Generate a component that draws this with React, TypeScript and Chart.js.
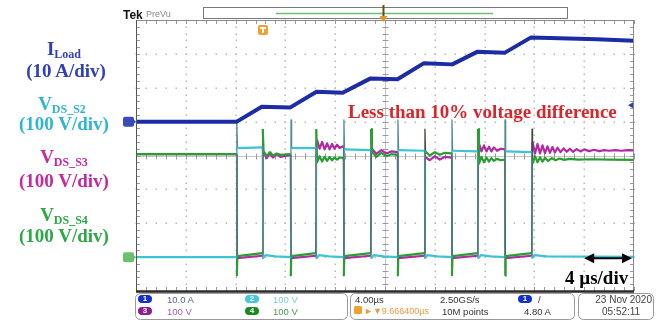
import React, { useEffect, useRef } from "react";
import { Chart, registerables } from "chart.js";

Chart.register(...registerables);

const W = 659;
const H = 320;

// Horizontal: 4 µs/div, 10 divisions
const timeRangeUs = [0, 40];
const timeDivUs = 4;
// Channel 1 (I_Load): 10 A/div, ground marker 5 div above bottom
const currentRangeA = [-50, 30];
// Channels 2-4 (V_DS): 100 V/div, ground marker 1 div above bottom
const voltageRangeV = [-100, 700];
const voltageDivV = 100;
const triggerLevelA = 4.8;

// [time µs, current A]
const iLoad: [number, number][] = [
  [0, 0], [8.1, 0], [10.1, 4.4], [12.4, 4.2], [14.5, 8.8], [16.6, 8.5],
  [18.8, 12.7], [21.0, 12.5], [23.1, 17.2], [25.4, 16.9], [27.4, 20.6],
  [29.6, 20.3], [31.7, 24.8], [34, 24.6], [37, 24.3], [40, 23.9],
];

// [time µs, voltage V]
const vDsS2: [number, number][] = [
  [0, 0], [8.08, 0], [8.1, 405], [8.15, 322], [10.15, 324], [10.18, -4], [10.4, 6], [11.2, 2],
  [12.43, 0], [12.45, 405], [12.5, 322], [14.46, 322], [14.49, -4], [14.7, 6], [15.5, 2],
  [16.68, 0], [16.7, 405], [16.75, 318], [18.85, 316], [18.88, -4], [19.1, 6], [19.9, 2],
  [21.02, 0], [21.04, 405], [21.09, 316], [23.18, 314], [23.21, -4], [23.4, 6], [24.2, 2],
  [25.36, 0], [25.38, 405], [25.43, 314], [27.44, 312], [27.47, -4], [27.7, 6], [28.5, 2],
  [29.62, 0], [29.64, 405], [29.69, 312], [31.78, 310], [31.81, -4], [32.0, 6], [33.0, 2],
  [40, 1],
];

const vDsS3: [number, number][] = [
  [0, 304], [8.1, 304], [8.13, -3], [10.16, 4],
  [10.19, 300], [10.25, 310], [10.5, 292], [10.75, 306], [11.0, 294], [11.3, 304], [11.6, 296], [12.42, 302],
  [12.45, -3], [14.46, 4],
  [14.49, 330], [14.55, 345], [14.75, 320], [14.95, 340], [15.15, 318], [15.35, 336], [15.55, 318],
  [15.75, 334], [15.95, 320], [16.15, 332], [16.35, 322], [16.67, 328],
  [16.7, -3], [18.86, 4],
  [18.89, 315], [18.95, 320], [19.3, 305], [19.7, 316], [20.1, 306], [20.5, 312], [21.01, 310],
  [21.04, -3], [23.19, 4],
  [23.22, 296], [23.6, 286], [24.0, 298], [24.4, 288], [24.8, 296], [25.36, 294],
  [25.39, -3], [27.45, 4],
  [27.48, 330], [27.55, 335], [27.75, 312], [27.95, 330], [28.15, 312], [28.35, 326], [28.55, 312],
  [28.75, 324], [29.0, 314], [29.3, 320], [29.63, 318],
  [29.66, -3], [31.79, 4],
  [31.82, 330], [31.85, 340], [32.05, 306], [32.25, 334], [32.45, 306], [32.65, 330], [32.85, 307],
  [33.05, 327], [33.25, 308], [33.45, 325], [33.65, 309], [33.85, 323], [34.1, 310], [34.35, 321],
  [34.6, 311], [34.85, 320], [35.1, 311], [35.4, 319], [35.7, 312], [36.0, 318], [36.4, 313],
  [36.8, 317], [37.2, 313], [37.6, 316], [38.0, 314], [38.5, 316], [39.0, 314], [39.5, 316], [40, 315],
];

const vDsS4: [number, number][] = [
  [0, 304], [8.08, 304], [8.1, -55], [8.14, 3], [10.15, 12],
  [10.18, 378], [10.25, 312], [10.5, 298], [10.75, 310], [11.0, 300], [11.3, 306], [11.6, 302], [12.4, 304],
  [12.43, -55], [12.47, 3], [14.45, 12],
  [14.48, 378], [14.55, 280], [14.75, 298], [14.95, 282], [15.15, 296], [15.35, 284], [15.55, 296],
  [15.75, 286], [15.95, 294], [16.15, 288], [16.35, 294], [16.66, 292],
  [16.69, -55], [16.73, 3], [18.85, 12],
  [18.88, 378], [18.95, 310], [19.3, 296], [19.7, 308], [20.1, 298], [20.5, 304], [21.0, 302],
  [21.03, -55], [21.07, 3], [23.18, 12],
  [23.21, 378], [23.25, 312], [23.6, 300], [24.0, 310], [24.4, 302], [24.8, 308], [25.35, 306],
  [25.38, -55], [25.42, 3], [27.44, 12],
  [27.47, 378], [27.55, 276], [27.75, 296], [27.95, 280], [28.15, 294], [28.35, 282], [28.55, 292],
  [28.75, 284], [29.0, 290], [29.3, 286], [29.62, 288],
  [29.65, -55], [29.69, 3], [31.78, 12],
  [31.81, 378], [31.85, 276], [32.05, 298], [32.25, 280], [32.45, 295], [32.65, 282], [32.85, 293],
  [33.1, 284], [33.4, 292], [33.7, 286], [34.0, 291], [34.4, 287], [34.8, 290], [35.5, 288],
  [36.5, 289], [38, 288], [40, 287],
];

const C_I = "#1c2ca4";
const C_S2 = "#3cc3d6";
const C_S3 = "#b02aa6";
const C_S4 = "#2a9e32";
const C_EDGE_S2 = "#4f8f96";
const C_EDGE_S4 = "#3a4d3a";

const toXY = (a: [number, number][]) => a.map(([x, y]) => ({ x, y }));

// thin dark switching edges (steep segments), as on the scope screen
const isEdge = (c: any) =>
  Math.abs(c.p1.parsed.x - c.p0.parsed.x) < 0.06 && Math.abs(c.p1.parsed.y - c.p0.parsed.y) > 60;
const edgeSeg = (edgeColor: string) => ({
  borderColor: (c: any) => (isEdge(c) ? edgeColor : undefined),
  borderWidth: (c: any) => (isEdge(c) ? 1.3 : undefined),
});

function rr(ctx: CanvasRenderingContext2D, x: number, y: number, w: number, h: number, r: number) {
  ctx.beginPath();
  ctx.moveTo(x + r, y);
  ctx.lineTo(x + w - r, y);
  ctx.arcTo(x + w, y, x + w, y + r, r);
  ctx.lineTo(x + w, y + h - r);
  ctx.arcTo(x + w, y + h, x + w - r, y + h, r);
  ctx.lineTo(x + r, y + h);
  ctx.arcTo(x, y + h, x, y + h - r, r);
  ctx.lineTo(x, y + r);
  ctx.arcTo(x, y, x + r, y, r);
  ctx.closePath();
}

const scopePlugin = {
  id: "scope",
  beforeDatasetsDraw(chart: any) {
    const { ctx, chartArea: a, scales } = chart;
    const x = scales.x;
    const yV = scales.yV;
    ctx.save();
    ctx.fillStyle = "#b8b8b8";
    const nx = (timeRangeUs[1] - timeRangeUs[0]) / timeDivUs;
    const ny = (voltageRangeV[1] - voltageRangeV[0]) / voltageDivV;
    for (let i = 1; i < nx; i++) {
      if (i === nx / 2) continue;
      const px = Math.round(x.getPixelForValue(timeRangeUs[0] + i * timeDivUs));
      for (let k = 0; k <= ny * 5; k++) {
        const py = Math.round(yV.getPixelForValue(voltageRangeV[0] + (k * voltageDivV) / 5));
        ctx.fillRect(px - 0.5, py - 0.5, 1.5, 1.5);
      }
    }
    for (let j = 1; j < ny; j++) {
      if (j === ny / 2) continue;
      const py = Math.round(yV.getPixelForValue(voltageRangeV[0] + j * voltageDivV));
      for (let k = 0; k <= nx * 5; k++) {
        const px = Math.round(x.getPixelForValue(timeRangeUs[0] + (k * timeDivUs) / 5));
        ctx.fillRect(px - 0.5, py - 0.5, 1.5, 1.5);
      }
    }
    const cx = Math.round(x.getPixelForValue((timeRangeUs[0] + timeRangeUs[1]) / 2)) + 0.5;
    const cy = Math.round(yV.getPixelForValue((voltageRangeV[0] + voltageRangeV[1]) / 2)) + 0.5;
    ctx.strokeStyle = "#c4c4c4";
    ctx.lineWidth = 1;
    ctx.beginPath();
    ctx.moveTo(cx, a.top);
    ctx.lineTo(cx, a.bottom);
    ctx.moveTo(a.left, cy);
    ctx.lineTo(a.right, cy);
    ctx.stroke();
    ctx.strokeStyle = "#9a9a9a";
    ctx.beginPath();
    for (let k = 0; k <= nx * 5; k++) {
      const px = Math.round(x.getPixelForValue(timeRangeUs[0] + (k * timeDivUs) / 5)) + 0.5;
      ctx.moveTo(px, cy - 3);
      ctx.lineTo(px, cy + 3);
      ctx.moveTo(px, a.top);
      ctx.lineTo(px, a.top + 4);
      ctx.moveTo(px, a.bottom);
      ctx.lineTo(px, a.bottom - 4);
    }
    for (let k = 0; k <= ny * 5; k++) {
      const py = Math.round(yV.getPixelForValue(voltageRangeV[0] + (k * voltageDivV) / 5)) + 0.5;
      ctx.moveTo(cx - 3, py);
      ctx.lineTo(cx + 3, py);
      ctx.moveTo(a.left, py);
      ctx.lineTo(a.left + 4, py);
      ctx.moveTo(a.right, py);
      ctx.lineTo(a.right - 4, py);
    }
    ctx.stroke();
    ctx.restore();
  },
  afterDatasetsDraw(chart: any) {
    const { ctx, chartArea: a, scales } = chart;
    const x = scales.x;
    const yI = scales.yI;
    const yV = scales.yV;
    ctx.save();
    ctx.strokeStyle = "#8a8a8a";
    ctx.lineWidth = 1;
    ctx.strokeRect(a.left + 0.5, a.top + 0.5, a.right - a.left - 1, a.bottom - a.top);
    ctx.strokeStyle = "#555";
    ctx.beginPath();
    ctx.moveTo(a.left + 0.5, a.top);
    ctx.lineTo(a.left + 0.5, a.bottom);
    ctx.stroke();
    ctx.strokeStyle = "#2a2a2a";
    ctx.lineWidth = 2.5;
    ctx.beginPath();
    ctx.moveTo(a.left, a.bottom + 0.5);
    ctx.lineTo(a.right, a.bottom + 0.5);
    ctx.stroke();

    // time/div double arrow
    const ay = yV.getPixelForValue(0) + 1;
    const ax0 = x.getPixelForValue(36.0);
    const ax1 = a.right - 2;
    ctx.strokeStyle = "#000";
    ctx.fillStyle = "#000";
    ctx.lineWidth = 2;
    ctx.beginPath();
    ctx.moveTo(ax0 + 4, ay);
    ctx.lineTo(ax1 - 4, ay);
    ctx.stroke();
    ctx.beginPath();
    ctx.moveTo(ax0, ay);
    ctx.lineTo(ax0 + 10, ay - 5);
    ctx.lineTo(ax0 + 10, ay + 5);
    ctx.closePath();
    ctx.fill();
    ctx.beginPath();
    ctx.moveTo(ax1, ay);
    ctx.lineTo(ax1 - 10, ay - 5);
    ctx.lineTo(ax1 - 10, ay + 5);
    ctx.closePath();
    ctx.fill();

    const g1 = yI.getPixelForValue(0);
    ctx.fillStyle = "#3a4cb8";
    rr(ctx, 123, g1 - 5, 11, 10, 2);
    ctx.fill();
    ctx.beginPath();
    ctx.moveTo(133, g1 - 3);
    ctx.lineTo(136, g1);
    ctx.lineTo(133, g1 + 3);
    ctx.fill();
    const g2 = yV.getPixelForValue(0);
    ctx.fillStyle = "#6cbf6c";
    rr(ctx, 123, g2 - 5, 11, 10, 2);
    ctx.fill();
    ctx.beginPath();
    ctx.moveTo(133, g2 - 3);
    ctx.lineTo(136, g2);
    ctx.lineTo(133, g2 + 3);
    ctx.fill();
    const tl = yI.getPixelForValue(triggerLevelA);
    ctx.fillStyle = "#2a40c0";
    ctx.beginPath();
    ctx.moveTo(a.right - 6, tl);
    ctx.lineTo(a.right - 1, tl - 3);
    ctx.lineTo(a.right - 1, tl + 3);
    ctx.closePath();
    ctx.fill();
    ctx.fillStyle = "#f0a030";
    rr(ctx, 258, 25, 10, 10, 2);
    ctx.fill();
    ctx.fillStyle = "#fff";
    ctx.fillRect(260, 27, 6, 2);
    ctx.fillRect(262, 27, 2, 6);

    ctx.fillStyle = "#fff";
    ctx.strokeStyle = "#7a7a7a";
    ctx.lineWidth = 1;
    ctx.fillRect(203.5, 7.5, 364, 11);
    ctx.strokeRect(203.5, 7.5, 364, 11);
    ctx.strokeStyle = "#6cc070";
    ctx.lineWidth = 1.5;
    ctx.beginPath();
    ctx.moveTo(276, 13.5);
    ctx.lineTo(493, 13.5);
    ctx.stroke();
    const tx = Math.round(x.getPixelForValue(20)) - 1.5;
    ctx.strokeStyle = "#6b4a1a";
    ctx.lineWidth = 2;
    ctx.beginPath();
    ctx.moveTo(tx, 5);
    ctx.lineTo(tx, 19);
    ctx.stroke();
    ctx.fillStyle = "#e89528";
    ctx.beginPath();
    ctx.moveTo(tx - 4, 16);
    ctx.lineTo(tx + 4, 16);
    ctx.lineTo(tx, 22);
    ctx.closePath();
    ctx.fill();

    ctx.strokeStyle = "#9a9a9a";
    ctx.lineWidth = 1;
    rr(ctx, 135.5, 293.5, 212, 26, 5);
    ctx.stroke();
    rr(ctx, 350.5, 293.5, 224, 26, 5);
    ctx.stroke();
    rr(ctx, 578.5, 293.5, 75, 26, 5);
    ctx.stroke();
    const pills: [number, number, string][] = [
      [138, 295, "#1530c8"], [245, 295, "#44c8e0"], [138, 307, "#8a2090"], [245, 307, "#1a8a22"],
      [518, 295, "#1530c8"],
    ];
    for (const [px, py, c] of pills) {
      ctx.fillStyle = c;
      rr(ctx, px, py, 14, 8, 4);
      ctx.fill();
    }
    ctx.fillStyle = "#f0a030";
    rr(ctx, 354, 306, 8, 8, 1.5);
    ctx.fill();
    ctx.restore();
  },
};

type TP = {
  x: number;
  base: number;
  size: number;
  serif?: boolean;
  bold?: boolean;
  color: string;
  align?: "left" | "center" | "right";
  children: React.ReactNode;
};

function Txt({ x, base, size, serif, bold, color, align = "left", children }: TP) {
  const k = serif ? 0.8375 : 0.8465;
  const tr = align === "center" ? "translateX(-50%)" : align === "right" ? "translateX(-100%)" : "none";
  return (
    <div
      style={{
        position: "absolute",
        left: x,
        top: base - k * size,
        fontSize: size,
        lineHeight: `${size}px`,
        fontFamily: serif ? '"Liberation Serif", "DejaVu Serif", serif' : '"Liberation Sans", Arial, sans-serif',
        fontWeight: bold ? 700 : 400,
        color,
        whiteSpace: "nowrap",
        transform: tr,
      }}
    >
      {children}
    </div>
  );
}

const subStyle: React.CSSProperties = { fontSize: 12, position: "relative", top: 3, lineHeight: 1 };

const L_BLUE = "#3140b8";
const L_CYAN = "#2fb6cf";
const L_MAG = "#c42a9c";
const L_GRN = "#2ca845";

export default function App() {
  const ref = useRef<HTMLCanvasElement | null>(null);
  useEffect(() => {
    document.body.style.margin = "0";
    const cv = ref.current;
    if (!cv) return;
    const chart = new Chart(cv, {
      type: "line",
      data: {
        datasets: [
          { label: "I_Load", data: toXY(iLoad), yAxisID: "yI", borderColor: C_I, borderWidth: 4, order: 0 },
          { label: "V_DS_S2", data: toXY(vDsS2), yAxisID: "yV", borderColor: C_S2, borderWidth: 2.2, order: 1, segment: edgeSeg(C_EDGE_S2) },
          { label: "V_DS_S4", data: toXY(vDsS4), yAxisID: "yV", borderColor: C_S4, borderWidth: 2.2, order: 2, segment: edgeSeg(C_EDGE_S4) },
          { label: "V_DS_S3", data: toXY(vDsS3), yAxisID: "yV", borderColor: C_S3, borderWidth: 2.2, order: 3, segment: edgeSeg(C_EDGE_S4) },
        ] as any,
      },
      options: {
        animation: false,
        responsive: false,
        devicePixelRatio: 1,
        events: [],
        layout: { padding: { left: 136, top: 20, right: 25, bottom: 29 } },
        plugins: { legend: { display: false }, tooltip: { enabled: false } },
        elements: { point: { radius: 0 }, line: { tension: 0, borderJoinStyle: "round" } },
        scales: {
          x: { type: "linear", min: timeRangeUs[0], max: timeRangeUs[1], display: false },
          yI: { type: "linear", min: currentRangeA[0], max: currentRangeA[1], display: false },
          yV: { type: "linear", min: voltageRangeV[0], max: voltageRangeV[1], display: false },
        },
      } as any,
      plugins: [scopePlugin as any],
    });
    return () => chart.destroy();
  }, []);

  return (
    <div style={{ position: "relative", width: W, height: H, background: "#fff", overflow: "hidden" }}>
      <canvas ref={ref} width={W} height={H} style={{ position: "absolute", left: 0, top: 0, width: W, height: H }} />
      <div style={{ position: "absolute", left: 0, top: 0, width: W, height: H, pointerEvents: "none" }}>
        <Txt x={64} base={55} size={19} serif bold color={L_BLUE} align="center">
          I<span style={subStyle}>Load</span>
        </Txt>
        <Txt x={66} base={77} size={19} serif bold color={L_BLUE} align="center">(10 A/div)</Txt>
        <Txt x={62} base={110} size={19} serif bold color={L_CYAN} align="center">
          V<span style={subStyle}>DS_S2</span>
        </Txt>
        <Txt x={64} base={130} size={19} serif bold color={L_CYAN} align="center">(100 V/div)</Txt>
        <Txt x={64} base={163} size={19} serif bold color={L_MAG} align="center">
          V<span style={subStyle}>DS_S3</span>
        </Txt>
        <Txt x={64} base={187} size={19} serif bold color={L_MAG} align="center">(100 V/div)</Txt>
        <Txt x={64} base={221} size={19} serif bold color={L_GRN} align="center">
          V<span style={subStyle}>DS_S4</span>
        </Txt>
        <Txt x={64} base={242} size={19} serif bold color={L_GRN} align="center">(100 V/div)</Txt>

        <Txt x={348} base={118} size={19} serif bold color="#d8262c">Less than 10% voltage difference</Txt>
        <Txt x={565} base={284} size={19} serif bold color="#000">4 µs/div</Txt>

        <Txt x={123} base={19} size={12} bold color="#111">Tek</Txt>
        <Txt x={146} base={18} size={9} color="#888">PreVu</Txt>

        <Txt x={145} base={302} size={8} bold color="#fff" align="center">1</Txt>
        <Txt x={252} base={302} size={8} bold color="#fff" align="center">2</Txt>
        <Txt x={145} base={314} size={8} bold color="#fff" align="center">3</Txt>
        <Txt x={252} base={314} size={8} bold color="#fff" align="center">4</Txt>
        <Txt x={167} base={303} size={9.5} color="#5a6494">10.0 A</Txt>
        <Txt x={273} base={303} size={9.5} color="#7cc8d4">100 V</Txt>
        <Txt x={167} base={315} size={9.5} color="#a060b0">100 V</Txt>
        <Txt x={273} base={315} size={9.5} color="#4c9c4c">100 V</Txt>

        <Txt x={355} base={303} size={9.5} color="#333">4.00µs</Txt>
        <Txt x={440} base={303} size={9.5} color="#333">2.50GS/s</Txt>
        <Txt x={525} base={302} size={8} bold color="#fff" align="center">1</Txt>
        <Txt x={538} base={303} size={9.5} color="#333">/</Txt>
        <Txt x={364} base={315} size={9} color="#e89a40">►▼9.666400µs</Txt>
        <Txt x={442} base={315} size={9.5} color="#333">10M points</Txt>
        <Txt x={524} base={315} size={9.5} color="#333">4.80 A</Txt>

        <Txt x={652} base={303} size={10} color="#444" align="right">23 Nov 2020</Txt>
        <Txt x={602} base={315} size={10} color="#444">05:52:11</Txt>
      </div>
    </div>
  );
}
